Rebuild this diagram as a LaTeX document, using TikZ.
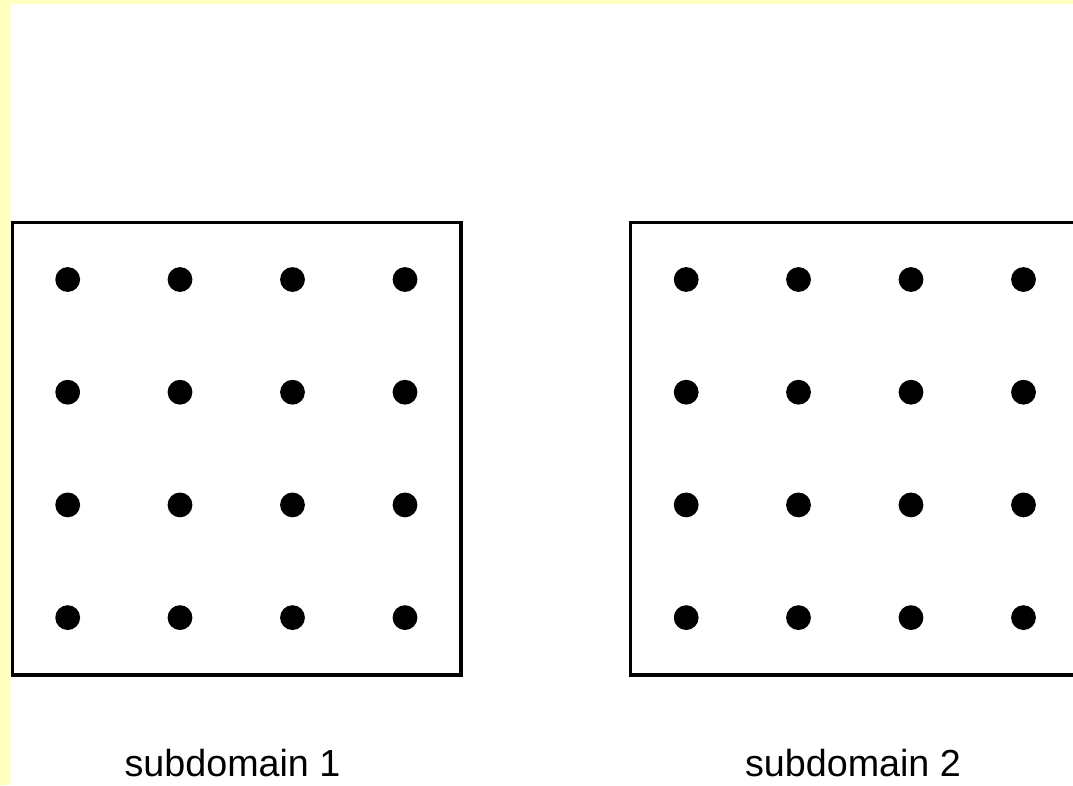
\documentclass[tikz,border=0pt]{standalone}
\usepackage{fontspec}
\setmainfont{Liberation Sans}
\usepackage{xcolor}
\usepackage{tikz}
\usetikzlibrary{positioning}
\definecolor{paleyellow}{RGB}{255,255,192}
\tikzset{
  subdom/.style={rectangle,draw=black,line width=0.08cm,fill=white,
    minimum width=11.21cm,minimum height=11.31cm,inner sep=0pt},
  pt/.style={circle,fill=black,minimum size=0.62cm,inner sep=0pt},
  lbl/.style={anchor=base,font=\fontsize{26.8}{31}\selectfont}
}

\begin{document}
\begin{tikzpicture}[x=0.025cm,y=-0.025cm]
    \useasboundingbox (0,0) rectangle (1073,785);
    \clip (0,0) rectangle (1073,785);
    % page margin
    \fill[paleyellow] (0,0) rectangle (1073,785);
    \fill[white] (11,4) rectangle (1073,785);

    % subdomains
    \node[subdom] (dom1) at (236.75,448.75) {};
    \node[subdom] (dom2) at (854.75,448.75) {};

    % grid points
    \foreach \i/\x in {1/67.7,2/180,3/292.5,4/405}{
      \foreach \j/\y in {1/279.5,2/392.2,3/504.9,4/617.6}{
        \node[pt] (a\i\j) at (\x,\y) {};
        \node[pt] (b\i\j) at (\x+618.5,\y) {};
      }
    }

    % labels
    \node[lbl] (lab1) at (232.5,776.5) {subdomain 1};
    \node[lbl] (lab2) at (853,776.5) {subdomain 2};
\end{tikzpicture}
\end{document}
